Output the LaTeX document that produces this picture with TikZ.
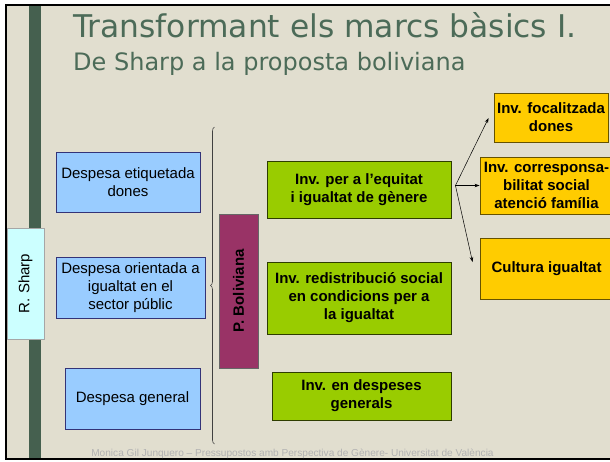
\documentclass[tikz,border=0pt]{standalone}
\usepackage{fontspec}
\setmainfont{Liberation Sans}
\newfontfamily\titlefont{DejaVu Sans}
\usetikzlibrary{decorations.pathreplacing,arrows.meta,calc}
\definecolor{slidebg}{HTML}{E1DECF}
\definecolor{barcol}{HTML}{45604F}
\definecolor{titlecol}{HTML}{4C6B58}
\definecolor{bluebox}{HTML}{99CCFF}
\definecolor{greenbox}{HTML}{99CC00}
\definecolor{orangebox}{HTML}{FFCC00}
\definecolor{magbox}{HTML}{993366}
\definecolor{cyanbox}{HTML}{CCFFFF}
\definecolor{footcol}{HTML}{B2B2B2}
\tikzset{
  boxbase/.style={draw=black!65, line width=0.9pt, inner sep=0pt, align=center,
    font=\fontsize{15}{18}\selectfont},
  bluenode/.style={boxbase, fill=bluebox, draw=black!55!blue!60!gray},
  greennode/.style={boxbase, fill=greenbox, draw=black!70!greenbox, font=\fontsize{15}{18}\selectfont\bfseries},
  orangenode/.style={boxbase, fill=orangebox, draw=black!60!orangebox, font=\fontsize{15}{18}\selectfont\bfseries},
  magnode/.style={boxbase, fill=magbox, draw=black!60, rotate=90, font=\fontsize{15}{18}\selectfont\bfseries},
  cyannode/.style={boxbase, fill=cyanbox, draw=black!35, rotate=90},
  arr/.style={line width=0.5pt, -{Stealth[length=5pt,width=3.5pt]}},
  titletext/.style={anchor=base west, inner sep=0pt, text=titlecol},
}
\begin{document}
\begin{tikzpicture}[x=1pt,y=-1pt]
\useasboundingbox (0,0) rectangle (610,461);
\begin{scope}
\clip (0,0) rectangle (610,461);
\fill[white] (0,0) rectangle (610,461);
\fill[slidebg] (6,5) rectangle (620,459);
\fill[barcol] (29,5) rectangle (41,459);
\draw[line width=2pt] (6,5) rectangle (620,459);

\node[titletext, font=\titlefont\fontsize{31.3}{34}\selectfont] (title) at (73,37.7) {Transformant els marcs bàsics I.};
\node[titletext, font=\titlefont\fontsize{24}{28}\selectfont] (subtitle) at (73,70.7) {De Sharp a la proposta boliviana};

\node[cyannode, minimum width=111pt, minimum height=37pt] (rsharp) at (25.5,283.5) {R. Sharp};

\node[bluenode, minimum width=144pt, minimum height=60pt] (b1) at (128,182) {Despesa etiquetada\\dones};
\node[bluenode, minimum width=149pt, minimum height=61pt] (b2) at (130.5,287.5) {Despesa orientada a\\igualtat en el\\sector públic};
\node[bluenode, minimum width=135pt, minimum height=61pt] (b3) at (132.5,398.5) {Despesa general};

\draw[decorate, decoration={brace, amplitude=4pt}, line width=0.6pt, black!75] (214.5,444) -- (214.5,127);

\node[magnode, minimum width=154pt, minimum height=39pt] (pb) at (238.5,291) {P. Boliviana};

\node[greennode, minimum width=184pt, minimum height=57pt] (g1) at (359,189.5) {Inv. per a l’equitat\\i igualtat de gènere};
\node[greennode, minimum width=184pt, minimum height=72pt] (g2) at (359,298) {Inv. redistribució social\\en condicions per a\\la igualtat};
\node[greennode, minimum width=179pt, minimum height=48pt] (g3) at (361.5,396) {Inv. en despeses\\generals};

\node[orangenode, minimum width=114pt, minimum height=49pt] (o1) at (551,117.5) {Inv. focalitzada\\dones};
\node[orangenode, minimum width=133pt, minimum height=57pt] (o2) at (546.5,185.5) {Inv. corresponsa-\\bilitat social\\atenció família};
\node[orangenode, minimum width=133pt, minimum height=61pt] (o3) at (546.5,268.5) {Cultura igualtat};

\coordinate (fork) at ($(g1.east)+(4,-4)$);
\draw[arr] (fork) -- ($(o1.west)+(-5,0.5)$);
\draw[arr] (fork) -- (o2.west);
\draw[arr] (fork) -- ($(o3.west)+(-7,-6.5)$);

\node[anchor=base, inner sep=0pt, text=footcol, font=\fontsize{10.1}{11}\selectfont] (foot) at (292.5,456) {Monica Gil Junquero – Pressupostos amb Perspectiva de Gènere- Universitat de València};
\end{scope}
\end{tikzpicture}
\end{document}
